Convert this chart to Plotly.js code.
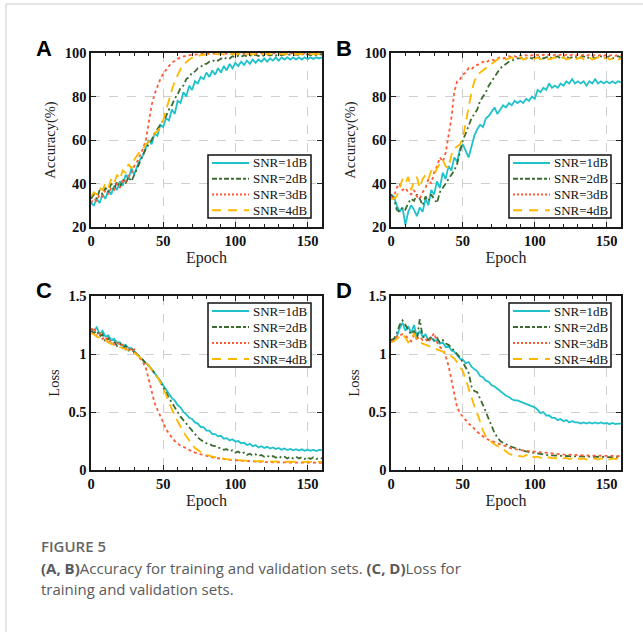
<!DOCTYPE html>
<html>
<head>
<meta charset="utf-8">
<script src="https://cdn.plot.ly/plotly-3.0.1.min.js"></script>
<style>html,body{margin:0;padding:0;background:#fff;}#plot{width:643px;height:632px;}</style>
</head>
<body>
<div id="plot"></div>
<script>
// ---------------- DATA ----------------
const epochs = [0,2,4,6,8,10,12,14,16,18,
  20,22,24,26,28,30,32,34,36,38,
  40,42,44,46,48,50,52,54,56,58,
  60,62,64,66,68,70,72,74,76,78,
  80,82,84,86,88,90,92,94,96,98,
  100,102,104,106,108,110,112,114,116,118,
  120,122,124,126,128,130,132,134,136,138,
  140,142,144,146,148,150,152,154,156,158,
  160];
const seriesNames = ['SNR=1dB','SNR=2dB','SNR=3dB','SNR=4dB'];

// (A) training accuracy
const accA1 = [31,30,33,31,35,33,37,35,39,37,
  41,39,44,42,47,44,48,51,53,57,
  60,58,63,62,67,66,70,69,74,72,
  78,77,82,80,85,83,87,86,89,88,
  91,89,92,90,93,91,94,92,95,93,
  95.5,94,96,94.5,96.5,95,97,95.5,97,96,
  97.5,96,97.5,96.5,98,96.5,98,97,98,97,
  98,97,98,97,98,97.2,98,97.3,98,97.5,
  98];
const accA2 = [33,35,33,37,35,38,36,40,37,41,
  38,42,40,43,41,44,47,50,53,56,
  58,60,63,65,67,69,71,74,76,79,
  81,84,85,88,89,91,91.5,93,93.5,95,
  95,96,96,97,96.5,97.5,97,98,97.5,98.5,
  98,98.7,98.2,99,98.4,99,98.5,99.2,98.6,99.2,
  98.7,99.3,98.8,99.3,98.8,99.4,98.9,99.4,98.9,99.4,
  99,99.4,99,99.5,99,99.5,99,99.5,99,99.5,
  99.2];
const accA3 = [31,33,32,35,34,37,35,38,37,40,
  38,42,41,44,45,48,50,53,56,60,
  68,76,81,85,88,90.5,92.5,94,95.5,96.5,
  97.3,98,98.5,98.8,99,99.2,99.4,99.5,99.6,99.7,
  99.6,99.8,99.7,99.8,99.6,99.8,99.7,99.9,99.7,99.8,
  99.7,99.9,99.7,99.8,99.7,99.9,99.8,99.9,99.7,99.9,
  99.8,99.9,99.8,99.9,99.8,99.9,99.8,99.9,99.8,99.9,
  99.8,99.9,99.8,99.9,99.8,99.9,99.8,99.9,99.8,99.9,
  99.9];
const accA4 = [34,36,35,38,37,40,38,42,40,44,
  42,46,45,49,47,51,53,55,56,58,
  59,61,63,64,66,69,74,78,83,87,
  90,92.5,94.5,96,97,97.8,98.3,98.7,99,99.2,
  99.3,99.5,99.3,99.6,99.4,99.6,99.3,99.6,99.4,99.6,
  99.4,99.6,99.4,99.6,99.4,99.6,99.4,99.6,99.4,99.6,
  99.4,99.6,99.4,99.6,99.4,99.6,99.4,99.6,99.4,99.6,
  99.4,99.6,99.4,99.6,99.4,99.6,99.4,99.6,99.4,99.6,
  99.5];

// (B) validation accuracy
const accB1 = [35,34,30,27,29,21,27,30,28,25,
  29,27,33,30,37,35,41,38,45,42,
  48,46,52,50,56,58,55,52,57,62,
  65,67,66,70,71,73,75,72,74,76,
  75,77,76,78,77,78,77,79,78,80,
  79,83,82,84,83,86,84,85,84,86,
  85,87,86,88,86,87,86,87,85,87,
  86,88,86,87,86,87,86,87,86,87,
  86.5];
const accB2 = [35,33,28,27,29,28,31,33,32,35,
  33,30,34,32,35,33,31,36,38,40,
  42,44,46,49,54,60,63,67,70,72,
  74,78,80,82,85,87,89,91,93,94,
  95,96,96.5,97,97.5,97.5,98,97.5,98,97.5,
  98,97.5,98.5,97.5,98,98.5,97.5,98,98.5,97.5,
  98,98.5,97.5,98,98.5,97.5,98,98.5,97.5,98,
  98.5,97.5,98,98.5,97.5,98,98.5,97.5,98,98.5,
  98];
const accB3 = [33,34,38,40,37,38,36,35,37,34,
  33,36,38,42,40,45,48,52,50,54,
  62,70,82,87,88,90,91,93,92.5,94,
  94.5,95,96,95.5,96.5,97,96.5,97.5,98,97.5,
  98,98.5,98,98.5,98,99,98.5,99,98.5,99,
  98.7,99.2,98.7,99.2,98.7,99.2,98.7,99.2,98.7,99.2,
  98.7,99.2,98.7,99.2,98.7,99.2,98.7,99.2,98.7,99.2,
  98.7,99.2,98.7,99.2,98.7,99.2,98.7,99.2,98.7,99.2,
  99];
const accB4 = [33,33,34,38,42,40,43,37,41,43,
  38,42,44,42,46,44,47,49,51,48,
  47,53,56,57,58,61,68,76,82,87,
  90,91,92,93,94,95,96,97,98,98,
  97,97.5,98,97,97.5,98,97,97.5,98,97,
  97.5,98,97,97.5,98,97,97.5,98,97,97.5,
  98,97,97.5,98,97,97.5,98,97,97.5,98,
  97,97.5,98,97,97.5,98,97,97.5,98,97,
  97.5];

// (C) training loss
const lossC1 = [1.22,1.2,1.23,1.17,1.2,1.15,1.16,1.12,1.13,1.1,
  1.1,1.07,1.08,1.05,1.05,1.02,1.0,0.97,0.95,0.92,
  0.9,0.87,0.84,0.81,0.77,0.73,0.69,0.66,0.62,0.6,
  0.56,0.54,0.5,0.48,0.45,0.44,0.41,0.4,0.37,0.37,
  0.34,0.34,0.31,0.31,0.29,0.295,0.27,0.275,0.255,0.265,
  0.245,0.25,0.23,0.235,0.215,0.225,0.205,0.215,0.195,0.205,
  0.19,0.2,0.185,0.195,0.18,0.19,0.175,0.185,0.172,0.182,
  0.17,0.18,0.168,0.178,0.166,0.176,0.165,0.175,0.164,0.174,
  0.17];
const lossC2 = [1.2,1.18,1.2,1.15,1.17,1.1,1.14,1.09,1.11,1.07,
  1.09,1.05,1.07,1.03,1.05,1.01,1.0,0.97,0.94,0.92,
  0.9,0.87,0.84,0.8,0.76,0.72,0.67,0.62,0.58,0.53,
  0.5,0.46,0.43,0.4,0.36,0.33,0.31,0.28,0.26,0.245,
  0.23,0.225,0.21,0.205,0.19,0.19,0.175,0.18,0.16,0.17,
  0.15,0.16,0.14,0.15,0.13,0.14,0.125,0.135,0.12,0.13,
  0.115,0.125,0.11,0.12,0.105,0.12,0.105,0.115,0.1,0.115,
  0.1,0.115,0.1,0.11,0.095,0.11,0.095,0.11,0.095,0.105,
  0.1];
const lossC3 = [1.2,1.23,1.15,1.18,1.13,1.15,1.1,1.12,1.08,1.1,
  1.07,1.08,1.04,1.06,1.02,1.04,0.99,0.96,0.93,0.88,
  0.78,0.66,0.58,0.52,0.47,0.41,0.35,0.31,0.28,0.25,
  0.23,0.21,0.2,0.185,0.17,0.16,0.15,0.14,0.135,0.13,
  0.12,0.115,0.11,0.105,0.1,0.097,0.093,0.09,0.087,0.085,
  0.082,0.08,0.078,0.076,0.075,0.073,0.072,0.071,0.07,0.069,
  0.068,0.068,0.067,0.067,0.066,0.066,0.065,0.065,0.065,0.064,
  0.064,0.064,0.063,0.064,0.063,0.063,0.063,0.062,0.063,0.062,
  0.062];
const lossC4 = [1.18,1.17,1.15,1.14,1.12,1.12,1.1,1.09,1.08,1.07,
  1.06,1.05,1.04,1.03,1.02,1.01,0.99,0.97,0.95,0.93,
  0.9,0.87,0.84,0.8,0.76,0.71,0.65,0.58,0.52,0.47,
  0.42,0.37,0.33,0.29,0.25,0.22,0.19,0.17,0.155,0.14,
  0.13,0.12,0.115,0.11,0.105,0.1,0.096,0.093,0.09,0.088,
  0.085,0.083,0.081,0.08,0.079,0.078,0.077,0.076,0.075,0.075,
  0.074,0.074,0.073,0.073,0.072,0.072,0.072,0.071,0.071,0.071,
  0.07,0.07,0.07,0.07,0.07,0.07,0.07,0.07,0.07,0.07,
  0.07];

// (D) validation loss
const lossD1 = [1.12,1.12,1.15,1.22,1.27,1.2,1.24,1.18,1.25,1.15,
  1.2,1.15,1.17,1.12,1.14,1.11,1.12,1.09,1.1,1.06,
  1.07,1.03,1.02,0.99,0.96,0.95,0.92,0.93,0.89,0.87,
  0.85,0.81,0.8,0.77,0.76,0.73,0.72,0.7,0.68,0.66,
  0.64,0.63,0.61,0.6,0.6,0.59,0.58,0.57,0.56,0.55,
  0.54,0.52,0.49,0.5,0.47,0.47,0.45,0.45,0.43,0.44,
  0.42,0.43,0.41,0.42,0.41,0.41,0.4,0.41,0.4,0.41,
  0.4,0.41,0.4,0.41,0.4,0.405,0.395,0.405,0.395,0.4,
  0.4];
const lossD2 = [1.12,1.13,1.18,1.25,1.29,1.25,1.2,1.17,1.2,1.12,
  1.3,1.15,1.14,1.12,1.15,1.12,1.14,1.1,1.12,1.09,
  1.08,1.05,1.03,1.0,0.97,0.93,0.88,0.84,0.72,0.68,
  0.67,0.62,0.56,0.5,0.44,0.38,0.32,0.28,0.25,0.235,
  0.22,0.21,0.2,0.19,0.18,0.175,0.165,0.16,0.155,0.15,
  0.145,0.14,0.135,0.132,0.13,0.127,0.125,0.123,0.122,0.121,
  0.12,0.12,0.119,0.118,0.118,0.117,0.116,0.116,0.115,0.115,
  0.114,0.114,0.113,0.113,0.112,0.112,0.111,0.111,0.11,0.11,
  0.11];
const lossD3 = [1.1,1.12,1.15,1.16,1.17,1.16,1.13,1.11,1.16,1.13,
  1.15,1.12,1.13,1.1,1.14,1.18,1.1,1.06,1.04,0.98,
  0.9,0.78,0.64,0.54,0.49,0.46,0.43,0.4,0.38,0.35,
  0.33,0.31,0.29,0.27,0.26,0.25,0.24,0.23,0.22,0.21,
  0.2,0.19,0.185,0.18,0.175,0.17,0.168,0.165,0.163,0.16,
  0.158,0.155,0.152,0.15,0.147,0.145,0.142,0.14,0.138,0.136,
  0.134,0.132,0.131,0.13,0.129,0.128,0.127,0.126,0.125,0.125,
  0.124,0.124,0.123,0.123,0.122,0.122,0.121,0.121,0.12,0.12,
  0.12];
const lossD4 = [1.1,1.11,1.13,1.15,1.17,1.14,1.1,1.12,1.18,1.12,
  1.1,1.09,1.08,1.07,1.06,1.05,1.04,1.03,1.02,1.01,
  1.0,0.98,0.96,0.93,0.89,0.85,0.78,0.7,0.62,0.55,
  0.49,0.42,0.34,0.29,0.26,0.24,0.22,0.21,0.195,0.18,
  0.16,0.14,0.13,0.125,0.12,0.12,0.115,0.13,0.11,0.12,
  0.11,0.115,0.105,0.11,0.1,0.11,0.1,0.105,0.095,0.105,
  0.1,0.105,0.095,0.1,0.09,0.1,0.095,0.1,0.09,0.1,
  0.095,0.1,0.09,0.1,0.095,0.1,0.09,0.1,0.095,0.1,
  0.1];

const panelSeries = [
  [accA1, accA2, accA3, accA4],
  [accB1, accB2, accB3, accB4],
  [lossC1, lossC2, lossC3, lossC4],
  [lossD1, lossD2, lossD3, lossD4]
];

// ---------------- STYLE ----------------
const W = 643, H = 632;
const SERIF = 'Liberation Serif, Times New Roman, serif';
const SANS = 'Liberation Sans, Arial, sans-serif';
const colors = ['#1fc2cb', '#3b6b2e', '#ff5a36', '#ffb800'];
const dashes = ['solid', '6px,3px,2px,3px', 'dot', '10px,6px'];
const legDashes = ['solid', '5px,2px,3px,2px', '2px,2px', '9px,7px'];
const widths = [1.8, 1.8, 1.8, 1.8];

const px = v => v / W;
const py = v => 1 - v / H;

const panels = [
  {l: 91, r: 322, t: 53, b: 227, range: [20, 100], dtick: 20, ytitle: 'Accuracy(%)', leg: {l: 208, r: 311, t: 155, b: 218}},
  {l: 391, r: 621, t: 53, b: 227, range: [20, 100], dtick: 20, ytitle: 'Accuracy(%)', leg: {l: 509, r: 611, t: 155, b: 218}},
  {l: 91, r: 322, t: 296, b: 470, range: [0, 1.5], dtick: 0.5, ytitle: 'Loss', leg: {l: 208, r: 311, t: 303, b: 367}},
  {l: 391, r: 621, t: 296, b: 470, range: [0, 1.5], dtick: 0.5, ytitle: 'Loss', leg: {l: 509, r: 611, t: 303, b: 367}}
];

const traces = [];
const layout = {
  width: W, height: H,
  margin: {l: 0, r: 0, t: 0, b: 0},
  paper_bgcolor: '#fff', plot_bgcolor: '#fff',
  showlegend: false,
  annotations: [], shapes: []
};

panels.forEach((p, k) => {
  const sfx = k === 0 ? '' : String(k + 1);
  panelSeries[k].forEach((ys, s) => {
    traces.push({
      type: 'scatter', mode: 'lines',
      x: epochs, y: ys, name: seriesNames[s],
      xaxis: 'x' + sfx, yaxis: 'y' + sfx,
      line: {color: colors[s], dash: dashes[s], width: widths[s]},
      hoverinfo: 'skip', showlegend: false
    });
  });
  const common = {
    ticks: 'inside', ticklen: 5, tickwidth: 1, tickcolor: '#222',
    showline: true, mirror: 'ticks', linecolor: '#1a1a1a', linewidth: 1.6,
    showgrid: true, gridcolor: '#cfcfcf', griddash: 'dash', gridwidth: 1,
    zeroline: false,
    tickfont: {family: SERIF, size: 14.5, color: '#111', weight: 700}
  };
  layout['xaxis' + sfx] = Object.assign({}, common, {
    domain: [px(p.l), px(p.r)], range: [0, 160], tick0: 0, dtick: 50,
    anchor: 'y' + sfx,
    minor: {dtick: 10, ticks: 'inside', ticklen: 3, tickcolor: '#222', showgrid: false},
    title: {text: 'Epoch', font: {family: SERIF, size: 16, color: '#222'}, standoff: 2}
  });
  layout['yaxis' + sfx] = Object.assign({}, common, {
    domain: [py(p.b), py(p.t)], range: p.range, tick0: 0, dtick: p.dtick,
    anchor: 'x' + sfx,
    title: {text: p.ytitle, font: {family: SERIF, size: 14.5, color: '#222'}, standoff: 5}
  });

  // legend box (drawn in paper space, on top of the plot)
  const L = p.leg;
  layout.shapes.push({
    type: 'rect', xref: 'paper', yref: 'paper', layer: 'above',
    x0: px(L.l), x1: px(L.r), y0: py(L.b), y1: py(L.t),
    fillcolor: '#ffffff', line: {color: '#111', width: 1.5}
  });
  const step = (L.b - L.t) / 4;
  seriesNames.forEach((nm, s) => {
    const yy = L.t + step * (s + 0.5);
    layout.shapes.push({
      type: 'line', xref: 'paper', yref: 'paper', layer: 'above',
      x0: px(L.l + 4), x1: px(L.l + 41), y0: py(yy), y1: py(yy),
      line: {color: colors[s], dash: legDashes[s], width: 2}
    });
    layout.annotations.push({
      text: nm, xref: 'paper', yref: 'paper', x: px(L.l + 43), y: py(yy),
      xanchor: 'left', yanchor: 'middle', showarrow: false,
      font: {family: SERIF, size: 13, color: '#111'}
    });
  });
});

// panel letters
[['A', 44, 49], ['B', 344, 49], ['C', 44, 290], ['D', 344, 290]].forEach(([t, x, y]) => {
  layout.annotations.push({
    text: '<b>' + t + '</b>', xref: 'paper', yref: 'paper',
    x: px(x), y: py(y), xanchor: 'center', yanchor: 'middle', showarrow: false,
    font: {family: SANS, size: 22, color: '#000'}
  });
});

// caption
const CAP = 'Open Sans, Lato, sans-serif';
layout.annotations.push({
  text: 'FIGURE 5', xref: 'paper', yref: 'paper', x: px(39), y: py(546),
  xanchor: 'left', yanchor: 'middle', showarrow: false,
  font: {family: CAP, size: 15, color: '#666', weight: 600}
});
layout.annotations.push({
  text: '<b>(A, B)</b>Accuracy for training and validation sets. <b>(C, D)</b>Loss for',
  xref: 'paper', yref: 'paper', x: px(39), y: py(568),
  xanchor: 'left', yanchor: 'middle', showarrow: false,
  font: {family: CAP, size: 15, color: '#5a5a5a'}
});
layout.annotations.push({
  text: 'training and validation sets.',
  xref: 'paper', yref: 'paper', x: px(39), y: py(589),
  xanchor: 'left', yanchor: 'middle', showarrow: false,
  font: {family: CAP, size: 15, color: '#5a5a5a'}
});

// frame lines
layout.shapes.push({type: 'line', xref: 'paper', yref: 'paper', x0: px(6), x1: px(6), y0: 0, y1: py(4), line: {color: '#cccccc', width: 1}});
layout.shapes.push({type: 'line', xref: 'paper', yref: 'paper', x0: px(6), x1: 1, y0: py(4), y1: py(4), line: {color: '#cccccc', width: 1}});

Plotly.newPlot('plot', traces, layout, {staticPlot: true, displayModeBar: false});
</script>
</body>
</html>
